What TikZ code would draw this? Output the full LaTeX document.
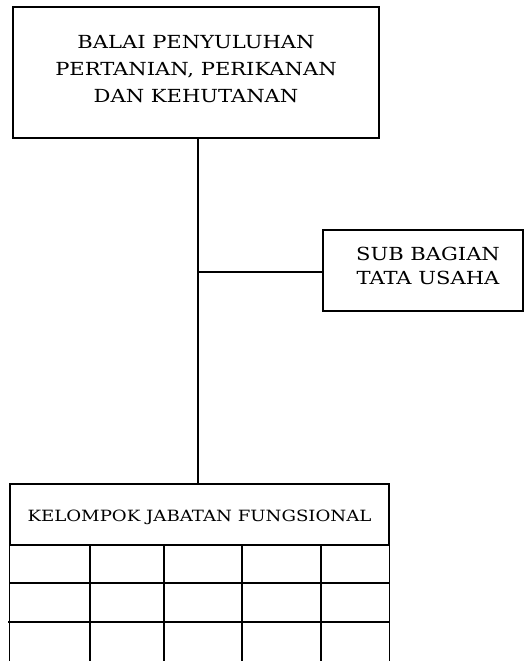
\documentclass[tikz,border=0pt]{standalone}
\usepackage{fontspec}
\setmainfont{DejaVu Serif}[FakeStretch=1.17]
\usetikzlibrary{positioning}

\begin{document}
\begin{tikzpicture}[x=1pt, y=1pt,
    orgblk/.style={draw, rectangle, line width=1.1pt, inner sep=0pt},
    teks/.style={align=center, inner sep=0pt},
    conn/.style={line width=1.1pt},
    grd/.style={line width=1.1pt},
    grdtebal/.style={line width=2.2pt}
  ]
    \useasboundingbox (0,0) rectangle (525,661);

    \node[orgblk, minimum width=366pt, minimum height=131pt] (balai) at (196,588.5) {};
    \node[teks, font=\fontsize{18}{27}\selectfont] (balaitxt) at ([yshift=3.5pt]balai.center)
          {BALAI PENYULUHAN\\PERTANIAN, PERIKANAN\\DAN KEHUTANAN};
    \node[orgblk, minimum width=200pt, minimum height=81pt] (sub) at (423,390.5) {};
    \node[teks, font=\fontsize{18}{23.5}\selectfont] (subtxt) at ([xshift=5pt,yshift=4.5pt]sub.center)
          {SUB BAGIAN\\TATA USAHA};
    \node[orgblk, minimum width=379pt, minimum height=61pt] (kjf) at (199.5,146.5) {};
    \node[teks, font=\fontsize{15.5}{20}\selectfont] (kjftxt) at ([yshift=-3pt]kjf.center)
          {KELOMPOK JABATAN FUNGSIONAL};

    \draw[conn] ([xshift=2pt]balai.south) -- ([xshift=2pt]balai.south |- kjf.north);
    \draw[conn] ([yshift=-1.5pt]sub.west) -- ([xshift=2pt,yshift=-1.5pt]sub.west -| balai.south);

    % tabel di bawah kelompok jabatan fungsional
    \draw[grd] (kjf.south west) -- ++(0,-116);
    \draw[grd] (kjf.south east) -- ++(0,-116);
    \foreach \cx in {90,164,242,321}
      \draw[grd] (\cx,116) -- (\cx,0);
    \draw[grd] (10,78) -- (389,78);
    \draw[grdtebal] (8,39) -- (389,39);
\end{tikzpicture}
\end{document}
